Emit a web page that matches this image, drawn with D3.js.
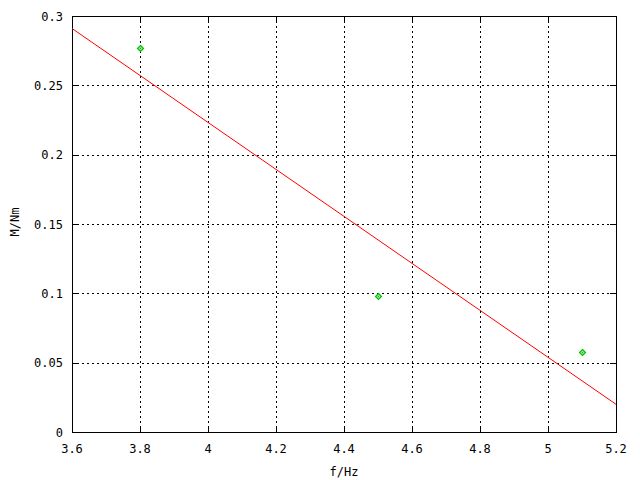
<!DOCTYPE html>
<html><head><meta charset="utf-8">
<script src="https://cdn.jsdelivr.net/npm/d3@7"></script>
<style>body{margin:0;background:#fff}svg{display:block}text{font-family:"DejaVu Sans Mono",monospace;font-size:12px;fill:#000}</style>
</head><body>
<script>
const freq = [3.8, 4.5, 5.1];
const moment = [0.277, 0.098, 0.058];
const fitX = [3.6, 5.2];
const fitY = [0.291, 0.020];
const xTicks = [3.6, 3.8, 4.0, 4.2, 4.4, 4.6, 4.8, 5.0, 5.2];
const yTicks = [0, 0.05, 0.1, 0.15, 0.2, 0.25, 0.3];
const xTitle = "f/Hz", yTitle = "M/Nm";

const W = 640, H = 480, L = 72, R = 616, T = 16, B = 432;
const svg = d3.select("body").append("svg").attr("width", W).attr("height", H);
const x = d3.scaleLinear().domain([3.6, 5.2]).range([L, R]);
const y = d3.scaleLinear().domain([0, 0.3]).range([B, T]);

const fmt = v => d3.format("~g")(+v.toFixed(2));

// grid
const g = svg.append("g").attr("stroke", "#000").attr("stroke-dasharray", "2,3").attr("shape-rendering", "crispEdges");
xTicks.slice(1, -1).forEach(v => g.append("line").attr("x1", Math.round(x(v)) + 0.5).attr("x2", Math.round(x(v)) + 0.5).attr("y1", T).attr("y2", B));
yTicks.slice(1, -1).forEach(v => g.append("line").attr("y1", Math.round(y(v)) + 0.5).attr("y2", Math.round(y(v)) + 0.5).attr("x1", L).attr("x2", R));

// ticks (inward, mirrored)
const tk = svg.append("g").attr("stroke", "#000").attr("shape-rendering", "crispEdges");
xTicks.forEach(v => {
  const px = Math.round(x(v)) + 0.5;
  tk.append("line").attr("x1", px).attr("x2", px).attr("y1", B).attr("y2", B - 6);
  tk.append("line").attr("x1", px).attr("x2", px).attr("y1", T).attr("y2", T + 6);
});
yTicks.forEach(v => {
  const py = Math.round(y(v)) + 0.5;
  tk.append("line").attr("y1", py).attr("y2", py).attr("x1", L).attr("x2", L + 6);
  tk.append("line").attr("y1", py).attr("y2", py).attr("x1", R).attr("x2", R - 6);
});

// tick labels
xTicks.forEach(v => svg.append("text").attr("x", x(v)).attr("y", 453).attr("text-anchor", "middle").text(fmt(v)));
yTicks.forEach(v => svg.append("text").attr("x", 63).attr("y", y(v) + 4.5).attr("text-anchor", "end").text(fmt(v)));

// border
svg.append("rect").attr("x", L + 0.5).attr("y", T + 0.5).attr("width", R - L).attr("height", B - T)
  .attr("fill", "none").attr("stroke", "#000").attr("shape-rendering", "crispEdges");

// fit line
svg.append("path").datum(fitX.map((v, i) => [v, fitY[i]]))
  .attr("d", d3.line().x(d => x(d[0])).y(d => y(d[1])))
  .attr("stroke", "#ff0000").attr("fill", "none").attr("stroke-width", 1);

// points
const pts = svg.append("g").selectAll("g").data(freq.map((v, i) => [v, moment[i]])).join("g")
  .attr("transform", d => `translate(${Math.round(x(d[0]))},${Math.round(y(d[1]))})`);
pts.append("path").attr("d", "M0.5,-2.5L3.5,0.5L0.5,3.5L-2.5,0.5Z")
  .attr("fill", "#9be89b").attr("stroke", "#00c000").attr("stroke-width", 1.2);
pts.append("rect").attr("x", 0).attr("y", 0).attr("width", 1).attr("height", 1).attr("fill", "#00c000");

// axis titles
svg.append("text").attr("x", (L + R) / 2).attr("y", 476).attr("text-anchor", "middle").text(xTitle);
svg.append("text").attr("transform", "translate(19,222) rotate(-90)").attr("text-anchor", "middle").text(yTitle);
</script>
</body></html>
